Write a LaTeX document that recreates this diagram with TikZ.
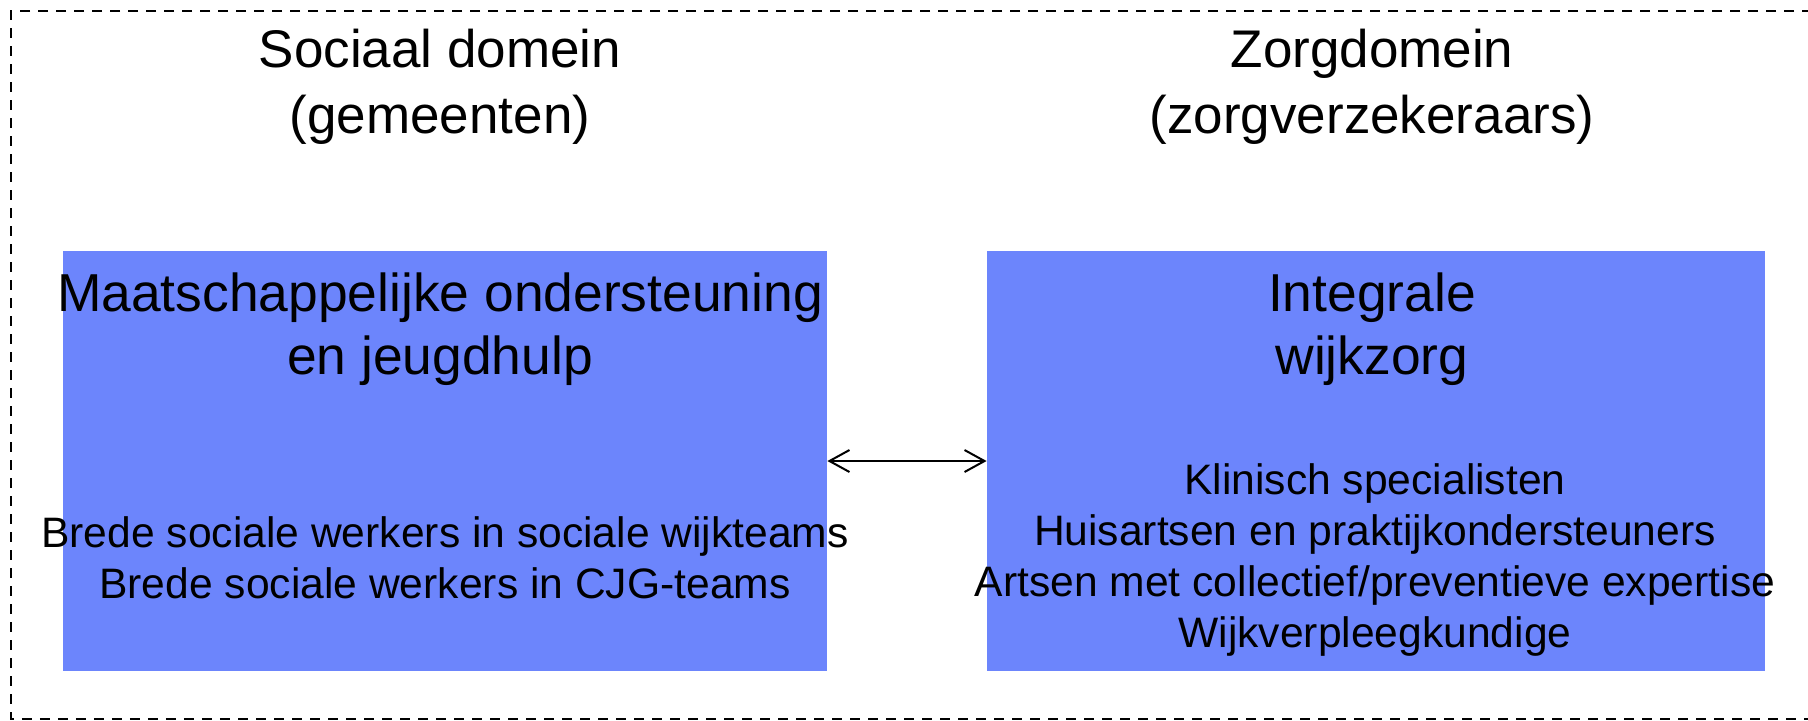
\documentclass[tikz,border=0pt]{standalone}
\usepackage{fontspec}
\setmainfont{Liberation Sans}
\usetikzlibrary{arrows.meta}
\definecolor{boxblue}{RGB}{108,133,252}
\begin{document}
\begin{tikzpicture}[x=0.5pt,y=-0.5pt,
  domainbox/.style={fill=boxblue, draw=none, inner sep=0pt, minimum height=210pt},
  headtxt/.style={align=center, inner sep=0pt, font=\fontsize{26.5}{33}\selectfont},
  titletxt/.style={align=center, inner sep=0pt, font=\fontsize{26.7}{31.7}\selectfont},
  listtxt/.style={align=center, inner sep=0pt, font=\fontsize{21.3}{25.5}\selectfont},
  frame/.style={draw=black, line width=1pt, dash pattern=on 5pt off 4pt},
  link/.style={draw=black, line width=1pt, {Straight Barb[length=10pt,width=11pt]}-{Straight Barb[length=10pt,width=11pt]}}
]
\useasboundingbox (0,0) rectangle (1808,720);
\draw[frame] (1830,11) -- (11,11) -- (11,719) -- (1830,719);

\node[domainbox, minimum width=382pt] (lbox) at (445,461) {};
\node[domainbox, minimum width=389pt] (rbox) at (1376,461) {};

\node[headtxt] (lhead) at (440,87) {Sociaal domein\\(gemeenten)};
\node[headtxt] (rhead) at (1372,87) {Zorgdomein\\(zorgverzekeraars)};

\node[titletxt] (ltitle) at (440,329) {Maatschappelijke ondersteuning\\en jeugdhulp};
\node[titletxt] (rtitle) at (1372,329) {Integrale\\wijkzorg};

\node[listtxt] (llist) at (445,558) {Brede sociale werkers in sociale wijkteams\\Brede sociale werkers in CJG-teams};
\node[listtxt] (rlist) at (1375,560) {Klinisch specialisten\\Huisartsen en praktijkondersteuners\\Artsen met collectief/preventieve expertise\\Wijkverpleegkundige};

\draw[link] (lbox.east) -- (rbox.west);
\end{tikzpicture}
\end{document}
